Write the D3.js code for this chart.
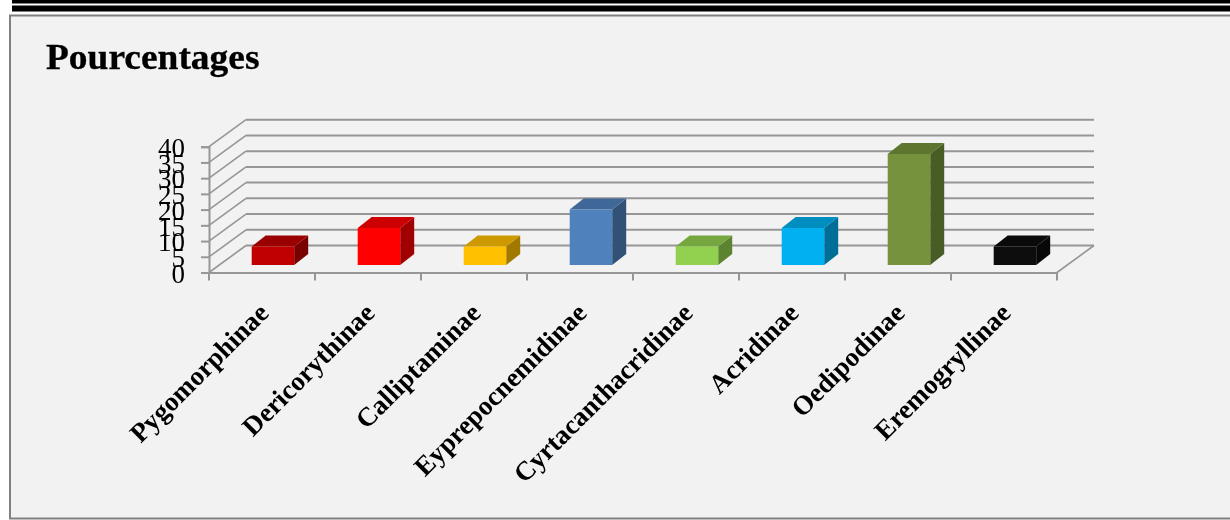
<!DOCTYPE html>
<html><head><meta charset="utf-8">
<script src="https://cdn.jsdelivr.net/npm/d3@7"></script>
<style>html,body{margin:0;padding:0;background:#fff;overflow:hidden}svg{display:block;filter:blur(0.55px)}text{font-family:"Liberation Serif",serif;fill:#000}</style>
</head><body><div id="c"></div>
<script>
const categories = ["Pygomorphinae","Dericorythinae","Calliptaminae","Eyprepocnemidinae","Cyrtacanthacridinae","Acridinae","Oedipodinae","Eremogryllinae"];
const values = [5.88,11.76,5.88,17.65,5.88,11.76,35.29,5.88];
const colors = ["#c00000","#ff0000","#ffc000","#4f81bd","#92d050","#00b0f0","#76923c","#0d0d0d"];
const yTicks = [0,5,10,15,20,25,30,35,40];
const titleText = "Pourcentages";

const svg = d3.select("#c").append("svg").attr("width",1230).attr("height",520);
// page rules and panel
svg.append("rect").attr("x",12).attr("y",0).attr("width",1218).attr("height",3.5).attr("fill","#000");
svg.append("rect").attr("x",12).attr("y",5.5).attr("width",1218).attr("height",6).attr("fill","#000");
svg.append("rect").attr("x",10).attr("y",15.5).attr("width",1225).attr("height",503).attr("fill","#f2f2f2").attr("stroke","#808080").attr("stroke-width",2);

svg.append("text").attr("transform","translate(46,69) scale(1.07,1)").attr("font-size",35).attr("font-weight","bold").attr("stroke","#000").attr("stroke-width",0.3).text(titleText);

const y = d3.scaleLinear().domain([0,40]).range([272.5,146.7]);
const x = d3.scaleBand().domain(categories).range([209,1057]);
const depth = {dx:37, dy:-27}, barDepth = {dx:14, dy:-11};
const baseY = 265, grid = "#969696";
const h = v => y(0) - y(v);
const g = svg.append("g");

// gridlines on back wall + side wall
yTicks.forEach(t=>{
  if(t>0) g.append("line").attr("x1",209+depth.dx).attr("x2",1094).attr("y1",y(t)+depth.dy).attr("y2",y(t)+depth.dy).attr("stroke",grid).attr("stroke-width",2);
  g.append("line").attr("x1",209).attr("x2",209+depth.dx).attr("y1",y(t)).attr("y2",y(t)+depth.dy).attr("stroke",grid).attr("stroke-width",1.6);
});
g.append("line").attr("x1",246).attr("x2",1094).attr("y1",y(0)+depth.dy).attr("y2",y(0)+depth.dy).attr("stroke",grid).attr("stroke-width",2);
g.append("line").attr("x1",1057).attr("x2",1094).attr("y1",y(0)).attr("y2",y(0)+depth.dy).attr("stroke",grid).attr("stroke-width",1.6);

// axes
const yAxis = d3.axisLeft(y).tickValues(yTicks).tickSize(8).tickPadding(16);
const ya = svg.append("g").attr("transform","translate(209,0)").call(yAxis);
ya.select(".domain").attr("stroke",grid).attr("stroke-width",2);
ya.selectAll("line").attr("stroke",grid).attr("stroke-width",2);
ya.selectAll("text").attr("font-size",27).attr("font-family","Liberation Serif").attr("fill","#111").attr("dy","0.36em");

const xa = svg.append("g").attr("transform",`translate(0,${y(0)})`).call(d3.axisBottom(x).tickSize(0).tickSizeOuter(0));
xa.select(".domain").attr("stroke",grid).attr("stroke-width",2);
xa.selectAll(".tick text")
  .attr("font-size",27).attr("font-weight","bold").attr("font-family","Liberation Serif").attr("fill","#000")
  .attr("text-anchor","end").attr("dy",0)
  .attr("transform","translate(6,40) rotate(-45)");
[...categories.map(c=>x(c)),1057].forEach(tx=>{
  svg.append("line").attr("x1",tx).attr("x2",tx).attr("y1",y(0)).attr("y2",y(0)+8).attr("stroke",grid).attr("stroke-width",2);
});

// bars
const bw = 42.5;
categories.forEach((c,i)=>{
  const col = d3.color(colors[i]);
  const x0 = x(c) + 42.7, x1 = x0 + bw;
  const yB = baseY, yT = baseY - h(values[i]);
  const d = barDepth;
  const b = g.append("g");
  const top = d3.rgb(col.r*0.8,col.g*0.8,col.b*0.8), side = d3.rgb(col.r*0.63,col.g*0.63,col.b*0.63);
  b.append("polygon").attr("points",[[x1,yB],[x1+d.dx,yB+d.dy],[x1+d.dx,yT+d.dy],[x1,yT]].join(" ")).attr("fill",side);
  b.append("polygon").attr("points",[[x0,yT],[x0+d.dx,yT+d.dy],[x1+d.dx,yT+d.dy],[x1,yT]].join(" ")).attr("fill",top);
  b.append("rect").attr("x",x0).attr("y",yT).attr("width",bw).attr("height",yB-yT).attr("fill",colors[i]);
});
</script></body></html>
